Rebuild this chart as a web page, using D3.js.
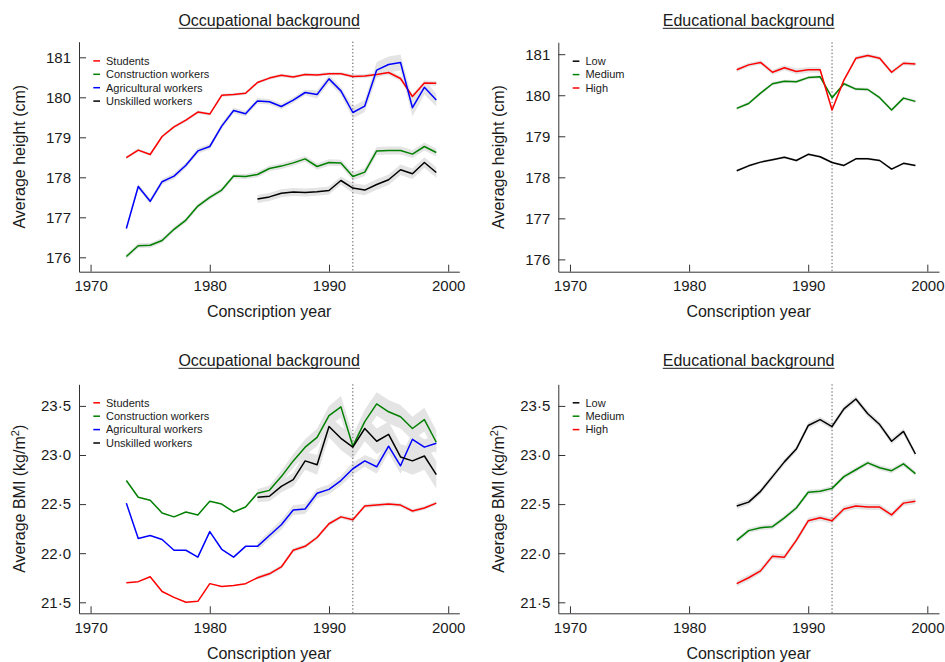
<!DOCTYPE html>
<html><head><meta charset="utf-8">
<script src="https://cdn.jsdelivr.net/npm/d3@7"></script>
<style>
body{margin:0;background:#fff}
text{font-family:"Liberation Sans",Arial,Helvetica,sans-serif;fill:#1a1a1a}
</style></head><body>
<svg id="c" width="945" height="662"></svg>
<script>
// ---------- data ----------
const yearsOcc = [1973,1974,1975,1976,1977,1978,1979,1980,1981,1982,1983,1984,1985,1986,1987,1988,1989,1990,1991,1992,1993,1994,1995,1996,1997,1998,1999];
const yearsEdu = [1984,1985,1986,1987,1988,1989,1990,1991,1992,1993,1994,1995,1996,1997,1998,1999];
const xTickValues = [1970,1980,1990,2000];
const heightTicks = [176,177,178,179,180,181];
const bmiTicks = [21.5,22.0,22.5,23.0,23.5];
const reformYear = 1992;

const occLabels = ["Students","Construction workers","Agricultural workers","Unskilled workers"];
const eduLabels = ["Low","Medium","High"];

// Height by occupation (cm)
const htStudents     = [178.49,178.68,178.57,179.02,179.26,179.43,179.63,179.58,180.05,180.07,180.10,180.37,180.48,180.55,180.51,180.57,180.56,180.59,180.59,180.52,180.53,180.57,180.62,180.47,180.02,180.36,180.35];
const htConstruction = [176.02,176.29,176.30,176.42,176.70,176.93,177.28,177.50,177.68,178.03,178.02,178.07,178.22,178.28,178.36,178.46,178.27,178.37,178.36,178.02,178.13,178.66,178.67,178.67,178.58,178.77,178.62];
const htAgricultural = [176.72,177.77,177.40,177.89,178.03,178.30,178.66,178.77,179.28,179.67,179.59,179.91,179.89,179.77,179.93,180.12,180.07,180.46,180.16,179.62,179.78,180.68,180.82,180.87,179.74,180.25,179.93];
const htUnskilled    = [null,null,null,null,null,null,null,null,null,null,null,177.46,177.51,177.60,177.63,177.62,177.64,177.67,177.92,177.73,177.68,177.82,177.94,178.19,178.09,178.37,178.12];
// 95% CI half-widths
const ciHtStudents     = [0.04,0.04,0.04,0.04,0.04,0.04,0.04,0.04,0.04,0.04,0.04,0.04,0.04,0.04,0.04,0.04,0.04,0.04,0.04,0.05,0.05,0.05,0.06,0.06,0.06,0.06,0.06];
const ciHtConstruction = [0.06,0.06,0.06,0.06,0.06,0.06,0.06,0.06,0.06,0.06,0.06,0.07,0.07,0.07,0.07,0.07,0.08,0.08,0.08,0.10,0.10,0.10,0.10,0.10,0.10,0.10,0.10];
const ciHtAgricultural = [0.07,0.07,0.07,0.07,0.07,0.07,0.07,0.07,0.07,0.07,0.07,0.07,0.07,0.07,0.07,0.07,0.10,0.10,0.10,0.15,0.15,0.20,0.20,0.20,0.22,0.18,0.16];
const ciHtUnskilled    = [null,null,null,null,null,null,null,null,null,null,null,0.10,0.10,0.10,0.10,0.10,0.10,0.10,0.10,0.13,0.13,0.13,0.13,0.13,0.13,0.13,0.13];

// Height by education (cm)
const htLow    = [178.16,178.28,178.37,178.43,178.49,178.41,178.56,178.50,178.36,178.29,178.45,178.45,178.41,178.20,178.34,178.29];
const htMedium = [179.68,179.80,180.05,180.28,180.34,180.33,180.43,180.45,179.94,180.28,180.15,180.14,179.94,179.64,179.93,179.85];
const htHigh   = [180.62,180.74,180.80,180.56,180.67,180.58,180.62,180.62,179.64,180.37,180.90,180.97,180.90,180.56,180.78,180.76];
const ciHtLow    = [0.03,0.03,0.03,0.03,0.03,0.03,0.03,0.03,0.03,0.03,0.03,0.03,0.03,0.03,0.03,0.03];
const ciHtMedium = [0.04,0.04,0.04,0.04,0.04,0.04,0.04,0.04,0.04,0.04,0.04,0.04,0.04,0.04,0.04,0.04];
const ciHtHigh   = [0.05,0.05,0.05,0.06,0.06,0.07,0.07,0.07,0.06,0.05,0.05,0.05,0.05,0.05,0.05,0.05];

// BMI by occupation (kg/m2)
const bmiStudents     = [21.70,21.71,21.76,21.61,21.55,21.50,21.51,21.69,21.66,21.67,21.69,21.75,21.79,21.86,22.03,22.07,22.16,22.30,22.37,22.34,22.48,22.49,22.50,22.49,22.43,22.46,22.51];
const bmiConstruction = [22.74,22.57,22.54,22.41,22.37,22.42,22.39,22.53,22.50,22.42,22.47,22.61,22.64,22.78,22.94,23.08,23.18,23.40,23.49,23.09,23.34,23.52,23.44,23.39,23.27,23.36,23.13];
const bmiAgricultural = [22.51,22.15,22.18,22.14,22.03,22.03,21.96,22.22,22.04,21.96,22.07,22.07,22.18,22.29,22.44,22.45,22.61,22.65,22.74,22.86,22.94,22.88,23.09,22.89,23.16,23.08,23.12];
const bmiUnskilled    = [null,null,null,null,null,null,null,null,null,null,null,22.57,22.58,22.68,22.75,22.94,22.90,23.29,23.17,23.08,23.27,23.14,23.21,22.98,22.94,22.99,22.80];
const ciBmiStudents     = [0,0,0,0,0,0,0,0,0,0,0,0.02,0.02,0.02,0.02,0.02,0.02,0.02,0.02,0.02,0.02,0.02,0.02,0.02,0.02,0.02,0.02];
const ciBmiConstruction = [0,0,0,0,0,0,0,0,0,0,0,0.04,0.05,0.06,0.07,0.08,0.09,0.10,0.11,0.11,0.12,0.12,0.12,0.12,0.12,0.12,0.12];
const ciBmiAgricultural = [0,0,0,0,0,0,0,0,0,0,0,0.04,0.04,0.05,0.05,0.05,0.05,0.05,0.05,0.06,0.06,0.07,0.07,0.08,0.08,0.08,0.08];
const ciBmiUnskilled    = [null,null,null,null,null,null,null,null,null,null,null,0.05,0.05,0.06,0.07,0.09,0.10,0.11,0.12,0.12,0.13,0.13,0.13,0.13,0.14,0.14,0.14];

// BMI by education (kg/m2)
const bmiLow    = [22.48,22.52,22.63,22.78,22.93,23.06,23.30,23.36,23.29,23.47,23.57,23.42,23.31,23.14,23.24,23.01];
const bmiMedium = [22.13,22.23,22.26,22.27,22.36,22.46,22.62,22.63,22.66,22.78,22.85,22.92,22.87,22.84,22.91,22.81];
const bmiHigh   = [21.69,21.75,21.82,21.97,21.96,22.13,22.33,22.36,22.33,22.45,22.48,22.47,22.47,22.39,22.51,22.53];
const ciBmiLow    = [0.03,0.03,0.03,0.03,0.03,0.03,0.03,0.03,0.03,0.03,0.03,0.03,0.03,0.03,0.03,0.03];
const ciBmiMedium = [0.025,0.025,0.025,0.025,0.025,0.025,0.025,0.025,0.025,0.025,0.025,0.025,0.025,0.025,0.025,0.025];
const ciBmiHigh   = [0.03,0.03,0.03,0.03,0.03,0.03,0.03,0.03,0.03,0.03,0.03,0.03,0.03,0.03,0.03,0.03];

const RED = "#ff0000", GREEN = "#008000", BLUE = "#0000ff", BLACK = "#000000";

// ---------- panel configs ----------
const fmtHeight = d => String(d);
const fmtBmi = d => d3.format(".1f")(d).replace(".", "\u00b7");

const panels = [
  { title:"Occupational background", left:79, right:459.3, xDom:[1969.03,2000.93], top:41.7, bottom:271.7, yDom:[175.64,181.39],
    yTicks:heightTicks, fmt:fmtHeight, ylabel:"height", titleY:26, legendX:93.3, legendY:64.7,
    years:yearsOcc, series:[
      {name:occLabels[0], color:RED,   v:htStudents,     ci:ciHtStudents},
      {name:occLabels[1], color:GREEN, v:htConstruction, ci:ciHtConstruction},
      {name:occLabels[2], color:BLUE,  v:htAgricultural, ci:ciHtAgricultural},
      {name:occLabels[3], color:BLACK, v:htUnskilled,    ci:ciHtUnskilled}] },
  { title:"Educational background", left:558.3, right:939, xDom:[1969.02,2000.98], top:42.3, bottom:271.7, yDom:[175.70,181.29],
    yTicks:heightTicks, fmt:fmtHeight, ylabel:"height", titleY:26, legendX:572.7, legendY:65,
    years:yearsEdu, series:[
      {name:eduLabels[0], color:BLACK, v:htLow,    ci:ciHtLow},
      {name:eduLabels[1], color:GREEN, v:htMedium, ci:ciHtMedium},
      {name:eduLabels[2], color:RED,   v:htHigh,   ci:ciHtHigh}] },
  { title:"Occupational background", left:79, right:459.3, xDom:[1969.03,2000.93], top:384.3, bottom:613.3, yDom:[21.388,23.72],
    yTicks:bmiTicks, fmt:fmtBmi, ylabel:"bmi", titleY:366, legendX:93.3, legendY:406.6,
    years:yearsOcc, series:[
      {name:occLabels[0], color:RED,   v:bmiStudents,     ci:ciBmiStudents},
      {name:occLabels[1], color:GREEN, v:bmiConstruction, ci:ciBmiConstruction},
      {name:occLabels[2], color:BLUE,  v:bmiAgricultural, ci:ciBmiAgricultural},
      {name:occLabels[3], color:BLACK, v:bmiUnskilled,    ci:ciBmiUnskilled}] },
  { title:"Educational background", left:558.3, right:939, xDom:[1969.02,2000.98], top:384.3, bottom:613.3, yDom:[21.388,23.72],
    yTicks:bmiTicks, fmt:fmtBmi, ylabel:"bmi", titleY:366, legendX:572.7, legendY:406.6,
    years:yearsEdu, series:[
      {name:eduLabels[0], color:BLACK, v:bmiLow,    ci:ciBmiLow},
      {name:eduLabels[1], color:GREEN, v:bmiMedium, ci:ciBmiMedium},
      {name:eduLabels[2], color:RED,   v:bmiHigh,   ci:ciBmiHigh}] }
];

const svg = d3.select("#c");

panels.forEach(p => {
  const g = svg.append("g");
  const x = d3.scaleLinear().domain(p.xDom).range([p.left, p.right]);
  const y = d3.scaleLinear().domain(p.yDom).range([p.bottom, p.top]);

  // CI bands
  p.series.forEach(s => {
    const pts = p.years.map((yr,i) => ({yr, v:s.v[i], c:s.ci[i]}));
    const area = d3.area()
      .defined(d => d.v != null && d.c != null && d.c > 0)
      .x(d => x(d.yr)).y0(d => y(d.v - d.c)).y1(d => y(d.v + d.c));
    g.append("path").attr("d", area(pts)).attr("fill", "#e4e4e4").attr("stroke", "none");
  });

  // reform dotted line
  g.append("line").attr("x1", x(reformYear)).attr("x2", x(reformYear))
    .attr("y1", p.top).attr("y2", p.bottom)
    .attr("stroke", "#555").attr("stroke-width", 1).attr("stroke-dasharray", "1.3,2.2");

  // lines
  p.series.forEach(s => {
    const pts = p.years.map((yr,i) => ({yr, v:s.v[i]}));
    const line = d3.line().defined(d => d.v != null).x(d => x(d.yr)).y(d => y(d.v));
    g.append("path").attr("d", line(pts)).attr("fill", "none")
      .attr("stroke", s.color).attr("stroke-width", 1.5).attr("stroke-linejoin", "round");
  });

  // axes
  const xAxis = d3.axisBottom(x).tickValues(xTickValues).tickFormat(d3.format("d"))
    .tickSizeInner(-7).tickSizeOuter(0).tickPadding(9);
  const gx = g.append("g").attr("transform", `translate(0,${p.bottom})`).call(xAxis);
  const yAxis = d3.axisLeft(y).tickValues(p.yTicks).tickFormat(p.fmt)
    .tickSizeInner(-7).tickSizeOuter(0).tickPadding(8);
  const gy = g.append("g").attr("transform", `translate(${p.left},0)`).call(yAxis);
  [gx, gy].forEach(a => {
    a.select(".domain").attr("stroke", "#333");
    a.selectAll(".tick line").attr("stroke", "#333");
    a.selectAll(".tick text").attr("font-size", 15).attr("fill", "#1a1a1a")
      .attr("font-family", '"Liberation Sans",Arial,Helvetica,sans-serif');
  });

  // axis titles
  g.append("text").attr("x", (p.left + p.right) / 2).attr("y", p.bottom + 45.5)
    .attr("text-anchor", "middle").attr("font-size", 16).text("Conscription year");
  const yl = g.append("text").attr("transform", `translate(${p.left - 54},${(p.top + p.bottom) / 2}) rotate(-90)`)
    .attr("text-anchor", "middle").attr("font-size", 16);
  if (p.ylabel === "height") {
    yl.text("Average height (cm)");
  } else {
    yl.append("tspan").text("Average BMI (kg/m");
    yl.append("tspan").attr("font-size", 11).attr("dy", -6).text("2");
    yl.append("tspan").attr("dy", 6).text(")");
  }

  // panel title with underline
  const cx = (p.left + p.right) / 2;
  const t = g.append("text").attr("x", cx).attr("y", p.titleY).attr("text-anchor", "middle")
    .attr("font-size", 16).text(p.title);
  const w = t.node().getComputedTextLength();
  g.append("line").attr("x1", cx - w / 2).attr("x2", cx + w / 2)
    .attr("y1", p.titleY + 2.3).attr("y2", p.titleY + 2.3).attr("stroke", "#1a1a1a").attr("stroke-width", 1);

  // legend
  p.series.forEach((s, i) => {
    const by = p.legendY + i * 13.4;
    g.append("line").attr("x1", p.legendX).attr("x2", p.legendX + 6.7)
      .attr("y1", by - 3.8).attr("y2", by - 3.8).attr("stroke", s.color).attr("stroke-width", 1.5);
    g.append("text").attr("x", p.legendX + 12.7).attr("y", by).attr("font-size", 11).text(s.name);
  });
});
</script>
</body></html>
